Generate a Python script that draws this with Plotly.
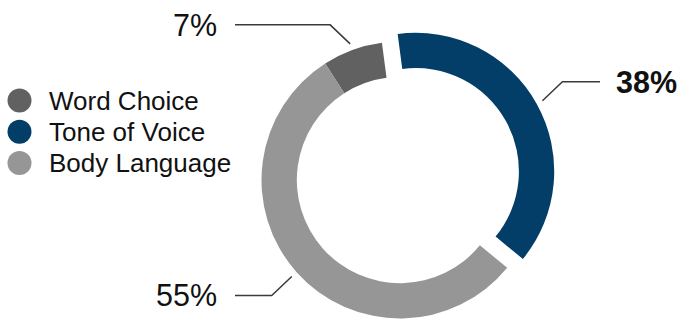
import math
import plotly.graph_objects as go

# ---- data ----
labels = ["Word Choice", "Tone of Voice", "Body Language"]
values = [7, 38, 55]
colors = ["#616161", "#023e68", "#969696"]
pulled = "Tone of Voice"
bold_labels = ["Tone of Voice"]

# ---- geometry / style ----
W, H = 679, 320
CX, CY, R = 400, 180, 138.5
HOLE = 0.745
PULL_PX = 18
START_DEG = -32.7          # clockwise from 12 o'clock, start of first slice
LEAD_R = 145               # leader start radius
DIAG = (20, 19)            # leader diagonal run
LEFT_COL, RIGHT_COL = 219, 614
FONT = "Liberation Sans, Arial, sans-serif"
LINE_COLOR = "#3a3a3a"


def px(x):
    return x / W


def py(y):
    return 1 - y / H


total = sum(values)
# slice angles
angles = []
a = START_DEG
for v in values:
    span = v / total * 360
    angles.append((a, a + span))
    a += span

pi = labels.index(pulled)
mid_p = math.radians(sum(angles[pi]) / 2)
dx, dy = PULL_PX * math.sin(mid_p), -PULL_PX * math.cos(mid_p)


def domain(cx, cy):
    return dict(x=[px(cx - R), px(cx + R)], y=[py(cy + R), py(cy - R)])


base_colors = [c if l != pulled else "rgba(0,0,0,0)" for l, c in zip(labels, colors)]
pull_colors = [c if l == pulled else "rgba(0,0,0,0)" for l, c in zip(labels, colors)]

fig = go.Figure()
for cols, (ox, oy) in [(base_colors, (0, 0)), (pull_colors, (dx, dy))]:
    fig.add_trace(go.Pie(
        labels=labels, values=values, sort=False, direction="clockwise",
        rotation=START_DEG, hole=HOLE, textinfo="none", showlegend=False,
        marker=dict(colors=cols, line=dict(width=0)),
        domain=domain(CX + ox, CY + oy), hoverinfo="label+percent",
    ))

shapes, annotations = [], []
for i, (lab, v) in enumerate(zip(labels, values)):
    m = math.radians(sum(angles[i]) / 2)
    cx, cy = (CX + dx, CY + dy) if lab == pulled else (CX, CY)
    sx, sy = cx + LEAD_R * math.sin(m), cy - LEAD_R * math.cos(m)
    sgx = 1 if math.sin(m) >= 0 else -1
    sgy = -1 if math.cos(m) >= 0 else 1
    ex, ey = sx + sgx * DIAG[0], sy + sgy * DIAG[1]
    hx = RIGHT_COL - 14 if sgx > 0 else LEFT_COL + 16
    shapes.append(dict(
        type="path", xref="paper", yref="paper",
        path=f"M {px(sx)},{py(sy)} L {px(ex)},{py(ey)} L {px(hx)},{py(ey)}",
        line=dict(color=LINE_COLOR, width=1.5),
    ))
    txt = f"{v}%"
    if lab in bold_labels:
        txt = f"<b>{txt}</b>"
    annotations.append(dict(
        x=px(RIGHT_COL if sgx > 0 else LEFT_COL), y=py(ey), xref="paper", yref="paper",
        xanchor="left" if sgx > 0 else "right", yanchor="middle",
        text=txt, showarrow=False, font=dict(family=FONT, size=30.5, color="#111111"),
    ))

# custom legend with circle markers
LEG_X, LEG_Y0, LEG_DY, LEG_R = 19.5, 100.5, 31.3, 12
for i, (lab, c) in enumerate(zip(labels, colors)):
    yy = LEG_Y0 + i * LEG_DY
    shapes.append(dict(
        type="circle", xref="paper", yref="paper",
        x0=px(LEG_X - LEG_R), x1=px(LEG_X + LEG_R),
        y0=py(yy + LEG_R), y1=py(yy - LEG_R),
        fillcolor=c, line=dict(width=0),
    ))
    annotations.append(dict(
        x=px(47), y=py(yy), xref="paper", yref="paper",
        xanchor="left", yanchor="middle", text=lab, showarrow=False,
        font=dict(family=FONT, size=26, color="#111111"),
    ))

fig.update_layout(
    width=W, height=H, margin=dict(l=0, r=0, t=0, b=0),
    paper_bgcolor="white", plot_bgcolor="white",
    shapes=shapes, annotations=annotations,
)
fig.write_html("out.html")
